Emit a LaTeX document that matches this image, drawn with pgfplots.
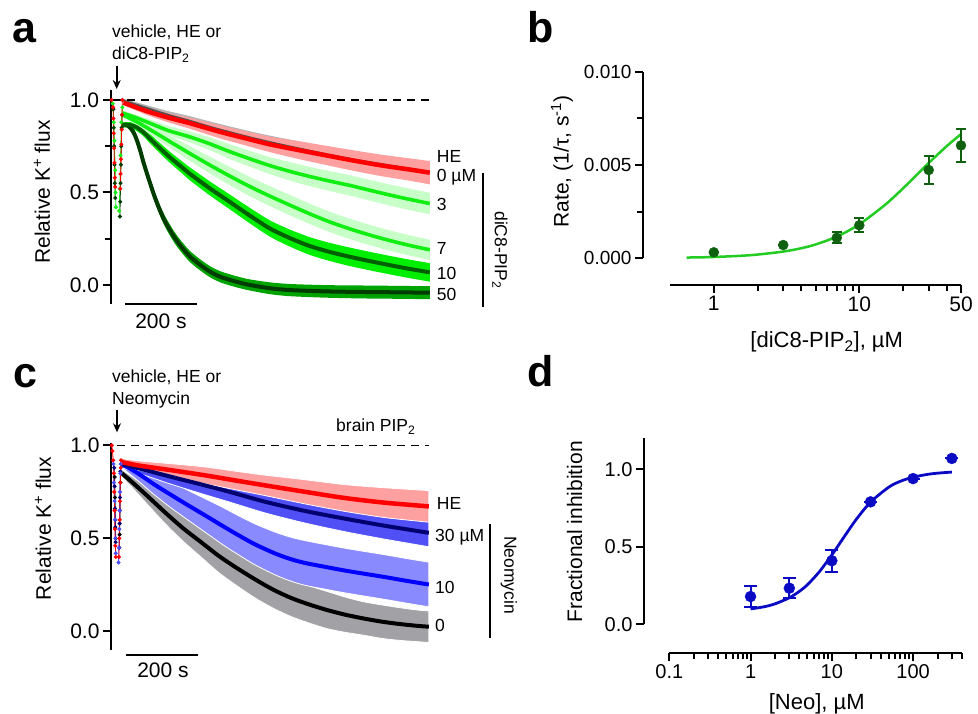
\documentclass[border=0pt]{standalone}
\usepackage{fontspec}
\setmainfont{Liberation Sans}
\usepackage{pgfplots}
\usepackage{pgfplotstable}
\pgfplotsset{compat=1.18}
\usepgfplotslibrary{fillbetween}
\usetikzlibrary{arrows.meta}

\definecolor{heRed}{HTML}{FF0000}
\definecolor{hePink}{HTML}{FFA0A0}
\definecolor{zeroLine}{HTML}{505050}
\definecolor{zeroBand}{HTML}{B4B4B4}
\definecolor{gLight}{HTML}{11EE11}
\definecolor{gPale}{HTML}{C8FFC8}
\definecolor{gTen}{HTML}{006000}
\definecolor{gTenBand}{HTML}{00EE00}
\definecolor{gFifty}{HTML}{003C00}
\definecolor{gFiftyBand}{HTML}{00A400}
\definecolor{navyLine}{HTML}{000070}
\definecolor{navyBand}{HTML}{5050F6}
\definecolor{blueLine}{HTML}{0000FF}
\definecolor{blueBand}{HTML}{8A8AFF}
\definecolor{grayBand}{HTML}{A2A2A6}
\definecolor{fitGreen}{HTML}{22CC22}
\definecolor{dotGreen}{HTML}{0F600F}
\definecolor{neoBlue}{HTML}{0A0AC4}

\newcommand{\fs}[1]{\fontsize{#1}{#1}\selectfont}

% shaded band = mean +- e, drawn with fillbetween
\newcommand{\band}[4][]{%
  \addplot[name path=#4U, draw=none, smooth, forget plot] table[x=t, y expr=\thisrow{y}+\thisrow{e}] {#2};
  \addplot[name path=#4L, draw=none, smooth, forget plot] table[x=t, y expr=\thisrow{y}-\thisrow{e}] {#2};
  \addplot[fill=#3, draw=none, forget plot, #1] fill between[of=#4U and #4L];
}

% ---- panel a: diC8-PIP2 traces (t in s, mean, half width of band)
\pgfplotstableread{
t y e
36 0.985 0.012
100 0.94 0.02
160 0.905 0.025
221 0.874 0.03
300 0.83 0.035
370 0.795 0.038
443 0.76 0.042
520 0.73 0.048
600 0.70 0.052
665 0.676 0.055
750 0.647 0.058
820 0.627 0.06
887 0.607 0.063
}\aHE
\pgfplotstableread{
t y e
36 0.997 0.01
100 0.957 0.015
160 0.92 0.02
221 0.887 0.025
300 0.842 0.03
443 0.772 0.035
665 0.682 0.045
887 0.612 0.05
}\aZero
\pgfplotstableread{
t y e
33 0.93 0.012
70 0.905 0.015
110 0.874 0.02
160 0.835 0.025
221 0.80 0.03
280 0.76 0.035
332 0.72 0.04
390 0.68 0.043
443 0.645 0.046
500 0.613 0.05
554 0.586 0.052
610 0.561 0.054
665 0.538 0.055
720 0.512 0.056
776 0.486 0.057
830 0.463 0.058
887 0.44 0.058
}\aThree
\pgfplotstableread{
t y e
33 0.92 0.012
70 0.885 0.018
110 0.84 0.025
165 0.775 0.032
221 0.71 0.04
276 0.648 0.045
332 0.588 0.05
387 0.532 0.052
443 0.48 0.054
500 0.43 0.055
554 0.384 0.055
610 0.34 0.055
665 0.303 0.055
720 0.27 0.055
776 0.24 0.055
830 0.214 0.055
887 0.19 0.055
}\aSeven
\pgfplotstableread{
t y e
33 0.865 0.012
50 0.866 0.015
73 0.852 0.02
92 0.825 0.022
110 0.79 0.025
137 0.74 0.028
165 0.69 0.03
193 0.645 0.032
221 0.60 0.035
276 0.522 0.038
332 0.448 0.04
387 0.375 0.042
443 0.305 0.044
500 0.252 0.046
554 0.21 0.048
610 0.178 0.049
665 0.152 0.05
720 0.129 0.05
776 0.107 0.05
830 0.087 0.05
887 0.068 0.05
}\aTen
\pgfplotstableread{
t y e
33 0.865 0.012
45 0.865 0.014
54 0.852 0.016
64 0.825 0.018
73 0.784 0.02
82 0.73 0.022
91 0.667 0.024
100 0.61 0.025
110 0.55 0.026
123 0.475 0.027
137 0.405 0.028
151 0.345 0.029
165 0.297 0.03
179 0.253 0.03
193 0.216 0.03
207 0.183 0.03
221 0.153 0.03
248 0.11 0.03
276 0.072 0.03
304 0.045 0.03
332 0.027 0.03
360 0.012 0.03
387 0.0 0.03
443 -0.018 0.032
500 -0.028 0.033
600 -0.035 0.034
700 -0.038 0.035
800 -0.04 0.035
887 -0.042 0.035
}\aFifty

% ---- panel c: neomycin traces
\pgfplotstableread{
t y e
30 0.91 0.02
76 0.892 0.025
169 0.866 0.035
261 0.839 0.045
350 0.81 0.05
428 0.785 0.055
540 0.75 0.065
650 0.717 0.072
760 0.692 0.08
883 0.672 0.085
}\cHE
\pgfplotstableread{
t y e
30 0.90 0.02
100 0.865 0.03
169 0.83 0.04
261 0.785 0.05
330 0.75 0.055
428 0.697 0.06
540 0.647 0.065
650 0.606 0.07
760 0.568 0.072
883 0.53 0.075
}\cThirty
\pgfplotstableread{
t y e
30 0.90 0.02
76 0.848 0.04
120 0.79 0.055
169 0.731 0.07
215 0.677 0.08
261 0.624 0.09
310 0.567 0.1
354 0.517 0.105
400 0.468 0.11
457 0.418 0.115
500 0.388 0.118
539 0.368 0.12
600 0.345 0.12
650 0.327 0.12
700 0.311 0.12
761 0.292 0.12
820 0.272 0.12
883 0.252 0.12
}\cTen
\pgfplotstableread{
t y e
30 0.85 0.02
60 0.80 0.03
100 0.73 0.045
150 0.64 0.06
200 0.555 0.07
250 0.48 0.08
300 0.405 0.09
350 0.34 0.095
400 0.28 0.1
450 0.225 0.1
500 0.18 0.1
550 0.145 0.1
600 0.115 0.1
650 0.09 0.095
700 0.07 0.09
750 0.053 0.09
800 0.04 0.088
850 0.03 0.085
883 0.025 0.085
}\cZero

\pgfplotsset{
  every axis/.append style={scale only axis, clip=false, tick align=outside,
    axis line style={line width=2pt}, tick style={line width=2pt, black},
    major tick length=8pt, minor tick length=6pt},
  trace/.style={width=324pt, xmin=0, xmax=900, axis x line=none, axis y line*=left,
    xtick=\empty, ytick={0,0.5,1}, yticklabels={0.0,0.5,1.0},
    yticklabel style={font=\fs{21}}},
  dots/.style={mark=*, mark size=1.6pt, line width=0.8pt},
  mean/.style={smooth, line width=4pt},
}

\begin{document}
\begin{tikzpicture}

% ================= a =================
\begin{axis}[trace, at={(110.5pt,410pt)}, anchor=south west, height=214pt,
  ymin=-0.103, ymax=1.054, minor ytick={0.25,0.75}]
  \band{\aFifty}{gFiftyBand}{aF}
  \band{\aTen}{gTenBand}{aT}
  \band{\aSeven}{gPale}{aS}
  \band{\aThree}{gPale}{aH}
  \band{\aZero}{zeroBand}{aZ}
  \band{\aHE}{hePink}{aR}
  \addplot[gFifty, mean] table[x=t, y=y] {\aFifty};
  \addplot[gTen, mean] table[x=t, y=y] {\aTen};
  \addplot[gLight, mean, line width=3.6pt] table[x=t, y=y] {\aSeven};
  \addplot[gLight, mean, line width=3.6pt] table[x=t, y=y] {\aThree};
  \addplot[zeroLine, mean, line width=2pt] table[x=t, y=y] {\aZero};
  \addplot[heRed, mean, line width=4.5pt] table[x=t, y=y] {\aHE};
  % wash-in points
  \addplot[gFifty, dots] coordinates {(8,0.95) (9,0.85) (10,0.75) (11,0.65) (12,0.55) (13,0.47)};
  \addplot[gFifty, dots] coordinates {(26,0.37) (27,0.45) (28,0.55) (29,0.65) (30,0.75) (31,0.85) (32,0.92)};
  \addplot[gLight, dots] coordinates {(6,0.98) (9,0.88) (11,0.78) (13,0.62) (14,0.50) (15,0.42)};
  \addplot[gLight, dots] coordinates {(24,0.40) (26,0.52) (28,0.70) (30,0.88) (33,0.96)};
  \addplot[heRed, dots] coordinates {(3,1.0) (7,0.96) (8,0.90) (9,0.82) (10,0.74) (11,0.66) (12,0.58) (13,0.53)};
  \addplot[heRed, dots] coordinates {(27,0.52) (28,0.60) (29,0.68) (30,0.76) (31,0.84) (32,0.92) (33,1.0)};
  % baseline and scale bar
  \addplot[black, line width=1.5pt, dash pattern=on 8pt off 6pt] coordinates {(7,1) (889,1)};
  \draw[line width=2pt] (axis cs:40,-0.103) -- (axis cs:240,-0.103);
\end{axis}

% ================= c =================
\begin{axis}[trace, at={(111pt,64pt)}, anchor=south west, height=207.4pt,
  ymin=-0.10, ymax=1.015]
  \band[draw=white, line width=0.8pt]{\cZero}{grayBand}{cZ}
  \band[draw=white, line width=0.8pt]{\cTen}{blueBand}{cT}
  \band[draw=white, line width=0.8pt]{\cThirty}{navyBand}{cN}
  \band[draw=white, line width=0.8pt]{\cHE}{hePink}{cR}
  \addplot[black, mean] table[x=t, y=y] {\cZero};
  \addplot[blueLine, mean] table[x=t, y=y] {\cTen};
  \addplot[navyLine, mean] table[x=t, y=y] {\cThirty};
  \addplot[heRed, mean, line width=4.5pt] table[x=t, y=y] {\cHE};
  % wash-in points
  \addplot[black, dots] coordinates {(10,0.83) (11,0.72) (12,0.6) (13,0.5)};
  \addplot[black, dots] coordinates {(24,0.52) (25,0.65) (26,0.8)};
  \addplot[navyLine, dots] coordinates {(9,0.88) (10,0.78) (11,0.66) (12,0.56) (13,0.48)};
  \addplot[navyLine, dots] coordinates {(23,0.45) (24,0.58) (25,0.72) (26,0.86)};
  \addplot[blueLine!70, dots] coordinates {(7,0.9) (8,0.8) (10,0.7) (11,0.6) (12,0.5) (13,0.42)};
  \addplot[blueLine!70, dots] coordinates {(21,0.37) (22,0.45) (23,0.55) (24,0.65) (25,0.75) (26,0.85) (27,0.9)};
  \addplot[heRed, dots] coordinates {(2,1.0) (4,0.97) (6,0.92) (8,0.85) (9,0.75) (10,0.65) (11,0.55) (12,0.46) (13,0.40)};
  \addplot[heRed, dots] coordinates {(22,0.40) (23,0.5) (24,0.6) (25,0.7) (26,0.8) (27,0.88) (28,0.92)};
  \addplot[black, line width=1.5pt, dash pattern=on 8pt off 6pt] coordinates {(17,1) (883,1)};
  \draw[line width=2pt] (axis cs:42,-0.129) -- (axis cs:242,-0.129);
\end{axis}

% ================= b =================
\begin{axis}[at={(670pt,455.7pt)}, anchor=south west, width=291pt, height=186.6pt,
  xmode=log, xmin=0.5, xmax=50, ymin=0, ymax=0.01,
  axis x line*=bottom, axis y line*=left,
  axis x line shift=26.7pt, axis y line shift=27pt,
  xtick={1,10,50}, xticklabels={1,10,50}, minor xtick={2,3,4,5,6,7,8,9,20,30,40},
  ytick={0,0.005,0.01}, yticklabels={0.000,0.005,0.010}, minor ytick={0.0025,0.0075},
  scaled y ticks=false,
  xticklabel style={font=\fs{21}}, yticklabel style={font=\fs{19}}]
  \addplot[fitGreen, line width=2.5pt, smooth] coordinates {
    (0.65,0.00004) (0.8,0.00005) (1,0.00007) (1.5,0.00013) (2,0.0002) (3,0.00036)
    (4,0.00054) (5,0.00074) (7,0.00116) (10,0.00182) (15,0.00286) (20,0.00375)
    (25,0.0045) (30,0.00511) (40,0.00602) (50,0.00665)};
  \addplot[dotGreen, only marks, mark=*, mark size=5pt,
    error bars/.cd, y dir=both, y explicit,
    error bar style={line width=2pt},
    error mark options={rotate=90, mark size=5pt, line width=2pt}]
    coordinates {(1,0.00032) +- (0,0) (3,0.00071) +- (0,0)
      (7,0.0011) +- (0,0.0003) (10,0.00177) +- (0,0.00037)
      (30,0.00473) +- (0,0.00075) (50,0.00605) +- (0,0.0009)};
\end{axis}

% ================= d =================
\begin{axis}[at={(669.3pt,89.7pt)}, anchor=south west, width=292.7pt, height=186pt,
  xmode=log, xmin=0.1, xmax=400, ymin=0, ymax=1.2,
  axis x line*=bottom, axis y line*=left,
  axis x line shift=29pt, axis y line shift=25.3pt,
  xtick={0.1,1,10,100}, xticklabels={0.1,1,10,100},
  minor xtick={0.2,0.3,0.4,0.5,0.6,0.7,0.8,0.9,2,3,4,5,6,7,8,9,20,30,40,50,60,70,80,90,200,300,400},
  ytick={0,0.5,1}, yticklabels={0.0,0.5,1.0},
  xticklabel style={font=\fs{20}}, yticklabel style={font=\fs{20}}]
  \addplot[neoBlue, line width=2.8pt, smooth] coordinates {
    (1,0.099) (1.5,0.114) (2,0.132) (3,0.171) (4,0.213) (5,0.255) (7,0.338)
    (10,0.447) (14,0.56) (20,0.677) (30,0.788) (50,0.884) (70,0.923)
    (100,0.949) (150,0.967) (200,0.975) (300,0.982)};
  \addplot[neoBlue, only marks, mark=*, mark size=5.5pt,
    error bars/.cd, y dir=both, y explicit,
    error bar style={line width=2pt},
    error mark options={rotate=90, mark size=6.5pt, line width=2pt}]
    coordinates {(1,0.179) +- (0,0.07) (3,0.233) +- (0,0.065) (10,0.41) +- (0,0.07)
      (30,0.79) +- (0,0) (100,0.94) +- (0,0) (300,1.07) +- (0,0)};
\end{axis}

% ================= texts (picture y = 714 - pixel row) =================
\node[anchor=base west, inner sep=0pt, font=\fs{43}\bfseries] at (12pt,671pt) {a};
\node[anchor=base west, inner sep=0pt, font=\fs{43}\bfseries] at (527pt,671pt) {b};
\node[anchor=base west, inner sep=0pt, font=\fs{43}\bfseries] at (13pt,326pt) {c};
\node[anchor=base west, inner sep=0pt, font=\fs{43}\bfseries] at (527pt,327pt) {d};

% a
\node[rotate=90, inner sep=0pt, font=\fs{21}] at (42pt,522pt) {Relative K\textsuperscript{+} flux};
\node[anchor=base west, inner sep=0pt, font=\fs{17.5}] at (112pt,676.7pt) {vehicle, HE or};
\node[anchor=base west, inner sep=0pt, font=\fs{17.5}] at (112pt,654pt) {diC8-PIP\textsubscript{2}};
\draw[line width=1.8pt, -{Stealth[length=9pt, width=8pt]}] (116.7pt,648pt) -- (116.7pt,625pt);
\node[inner sep=0pt, font=\fs{21}] at (161pt,392.3pt) {200 s};
\begin{scope}[every node/.style={anchor=base west, inner sep=0pt, font=\fs{17.5}}]
  \node at (436.7pt,551.3pt) {HE};
  \node at (436.7pt,532.3pt) {0 µM};
  \node at (436.7pt,503pt) {3};
  \node at (436.7pt,459pt) {7};
  \node at (436.7pt,434pt) {10};
  \node at (436.7pt,413.3pt) {50};
\end{scope}
\draw[line width=1.5pt] (483pt,541.3pt) -- (483pt,407.3pt);
\node[rotate=-90, inner sep=0pt, font=\fs{17.5}] at (500pt,464pt) {diC8-PIP\textsubscript{2}};

% b
\node[rotate=90, inner sep=0pt, font=\fs{21}] at (562pt,552.3pt) {Rate, (1/τ, s\textsuperscript{-1})};
\node[inner sep=0pt, font=\fs{22}] at (826.7pt,372pt) {[diC8-PIP\textsubscript{2}], µM};

% c
\node[rotate=90, inner sep=0pt, font=\fs{21}] at (43pt,185.5pt) {Relative K\textsuperscript{+} flux};
\node[anchor=base west, inner sep=0pt, font=\fs{17.5}] at (112pt,331.3pt) {vehicle, HE or};
\node[anchor=base west, inner sep=0pt, font=\fs{17.5}] at (112pt,309pt) {Neomycin};
\draw[line width=1.8pt, -{Stealth[length=9pt, width=8pt]}] (117pt,304pt) -- (117pt,281.7pt);
\node[anchor=base west, inner sep=0pt, font=\fs{17.5}] at (336pt,282.3pt) {brain PIP\textsubscript{2}};
\node[inner sep=0pt, font=\fs{21}] at (163pt,44pt) {200 s};
\begin{scope}[every node/.style={anchor=base west, inner sep=0pt, font=\fs{17.5}}]
  \node at (436.7pt,204pt) {HE};
  \node at (435pt,172.3pt) {30 µM};
  \node at (435pt,120.7pt) {10};
  \node at (435pt,82.3pt) {0};
\end{scope}
\draw[line width=1.5pt] (490pt,190pt) -- (490pt,76pt);
\node[rotate=-90, inner sep=0pt, font=\fs{17.5}] at (509pt,139pt) {Neomycin};

% d
\node[rotate=90, inner sep=0pt, font=\fs{21}] at (574.7pt,182.3pt) {Fractional inhibition};
\node[inner sep=0pt, font=\fs{22}] at (816.7pt,10pt) {[Neo], µM};

\pgfresetboundingbox
\path (0pt,0pt) rectangle (978pt,714pt);
\end{tikzpicture}
\end{document}
